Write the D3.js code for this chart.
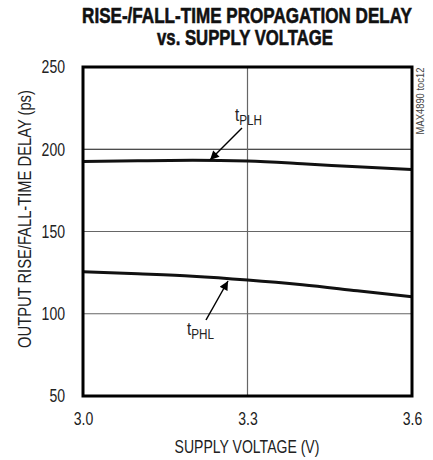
<!DOCTYPE html>
<html><head><meta charset="utf-8">
<script src="https://cdn.jsdelivr.net/npm/d3@7"></script>
<style>
body{margin:0;background:#fff;}
svg{display:block;}
text{font-family:"Liberation Sans",Arial,sans-serif;}
</style></head>
<body><svg id="c" width="433" height="460"></svg>
<script>
const voltages = [3.0, 3.1, 3.2, 3.3, 3.4, 3.5, 3.6];
const tPLH = [192.5, 193.0, 193.3, 192.8, 191.2, 189.3, 187.6];
const tPHL = [125.6, 124.3, 122.8, 120.5, 117.6, 114.0, 110.4];
const xTicks = [3.0, 3.3, 3.6];
const yTicks = [50, 100, 150, 200, 250];
const titleLines = ["RISE-/FALL-TIME PROPAGATION DELAY", "vs. SUPPLY VOLTAGE"];

const svg = d3.select("#c");
const L = 83, R = 412, T = 67, B = 396;
const x = d3.scaleLinear().domain([3.0, 3.6]).range([L, R]);
const y = d3.scaleLinear().domain([50, 250]).range([B, T]);

// place text at (px,py) with rotation, horizontally squeezed to a target width
function fitText(parent, txt, px, py, size, width, opts = {}) {
  const t = parent.append("text").attr("x", 0).attr("y", 0)
    .attr("text-anchor", opts.anchor || "middle")
    .attr("font-size", size).attr("fill", opts.fill || "#222")
    .attr("font-weight", opts.weight || "normal").text(txt);
  if (opts.stroke) t.attr("stroke", opts.fill).attr("stroke-width", opts.stroke);
  const w = t.node().getComputedTextLength();
  const s = width / w;
  t.attr("transform", `translate(${px},${py}) rotate(${opts.rot || 0}) scale(${s},1)`);
  return t;
}

// title
fitText(svg, titleLines[0], 247, 23, 22, 330, {weight: "bold", fill: "#111", stroke: 0.6});
fitText(svg, titleLines[1], 245, 45, 22, 176, {weight: "bold", fill: "#111", stroke: 0.6});

// grid
const g = svg.append("g");
g.selectAll("line.hg").data(yTicks.filter(d => d > 50 && d < 250)).join("line")
  .attr("x1", L).attr("x2", R).attr("y1", d => y(d)).attr("y2", d => y(d))
  .attr("stroke", d => d === 200 ? "#111" : "#666").attr("stroke-width", 1.2);
g.selectAll("line.vg").data(xTicks.filter(d => d > 3.0 && d < 3.6)).join("line")
  .attr("x1", d => x(d)).attr("x2", d => x(d)).attr("y1", T).attr("y2", B)
  .attr("stroke", "#666").attr("stroke-width", 1.2);

// curves
const line = d3.line().x((d, i) => x(voltages[i])).y(d => y(d)).curve(d3.curveMonotoneX);
[tPLH, tPHL].forEach(s => {
  svg.append("path").attr("d", line(s)).attr("fill", "none")
    .attr("stroke", "#111").attr("stroke-width", 3);
});

// frame
svg.append("rect").attr("x", L).attr("y", T).attr("width", R - L).attr("height", B - T)
  .attr("fill", "none").attr("stroke", "#000").attr("stroke-width", 3);

// axes
const SQ = 0.78;
const yAxis = d3.axisLeft(y).tickValues(yTicks).tickSize(0).tickPadding(18).tickFormat(d3.format("d"));
const ya = svg.append("g").attr("transform", `translate(${L},0)`).call(yAxis);
ya.select(".domain").remove();
ya.selectAll("text").attr("font-size", 18).attr("fill", "#222")
  .attr("font-family", '"Liberation Sans",Arial,sans-serif')
  .attr("x", -18 / SQ).attr("transform", `scale(${SQ},1)`);

const xAxis = d3.axisBottom(x).tickValues(xTicks).tickSize(0).tickPadding(16).tickFormat(d3.format(".1f"));
const xa = svg.append("g").attr("transform", `translate(0,${B})`).call(xAxis);
xa.select(".domain").remove();
xa.selectAll("text").attr("font-size", 18).attr("fill", "#222")
  .attr("font-family", '"Liberation Sans",Arial,sans-serif')
  .attr("transform", `scale(${SQ},1)`);

// axis titles
fitText(svg, "SUPPLY VOLTAGE (V)", 247, 453, 18, 145);
fitText(svg, "OUTPUT RISE/FALL-TIME DELAY (ps)", 31, 219, 18, 258, {rot: -90});

// side note
fitText(svg, "MAX4890 toc12", 424, 101, 10, 67, {rot: -90, fill: "#444"});

// annotations
const defs = svg.append("defs");
defs.append("marker").attr("id", "ah").attr("viewBox", "0 0 10 10").attr("refX", 10).attr("refY", 5)
  .attr("markerWidth", 12).attr("markerHeight", 9).attr("markerUnits", "userSpaceOnUse")
  .attr("orient", "auto").append("path").attr("d", "M0,0 L10,5 L0,10 Z").attr("fill", "#000");

function label(xp, yp, main, sub) {
  const t = svg.append("text").attr("x", xp).attr("y", yp).attr("font-size", 18).attr("fill", "#222");
  t.append("tspan").text(main);
  t.append("tspan").attr("font-size", 14).attr("dy", 4).text(sub);
  const w = t.node().getComputedTextLength();
  t.attr("x", 0).attr("y", 0).attr("transform", `translate(${xp},${yp}) scale(${27 / w},1)`);
}
label(235, 121, "t", "PLH");
svg.append("line").attr("x1", 242).attr("y1", 128).attr("x2", 210).attr("y2", 160)
  .attr("stroke", "#000").attr("stroke-width", 1.5).attr("marker-end", "url(#ah)");
label(187, 335, "t", "PHL");
svg.append("line").attr("x1", 206).attr("y1", 320).attr("x2", 228).attr("y2", 281)
  .attr("stroke", "#000").attr("stroke-width", 1.5).attr("marker-end", "url(#ah)");
</script></body></html>
